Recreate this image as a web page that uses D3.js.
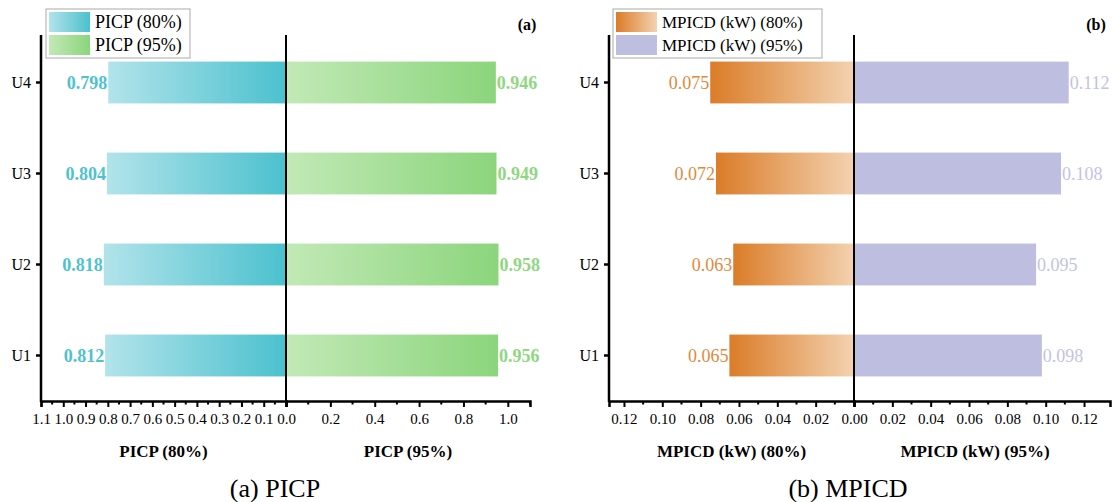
<!DOCTYPE html>
<html>
<head>
<meta charset="utf-8">
<script src="https://cdn.jsdelivr.net/npm/d3@7"></script>
<style>
  html, body { margin: 0; padding: 0; background: #fff; }
  svg, svg text { font-family: "Liberation Serif", "Times New Roman", Times, serif; }
  svg { display: block; }
</style>
</head>
<body>
<svg id="chart" width="1113" height="502"></svg>
<script>
// Units and interval metrics
const units = ["U1", "U2", "U3", "U4"];
const picp80 = [0.812, 0.818, 0.804, 0.798];
const picp95 = [0.956, 0.958, 0.949, 0.946];
const mpicd80 = [0.065, 0.063, 0.072, 0.075];
const mpicd95 = [0.098, 0.095, 0.108, 0.112];

const picpLeftTicks = [1.1, 1.0, 0.9, 0.8, 0.7, 0.6, 0.5, 0.4, 0.3, 0.2, 0.1, 0.0];
const picpRightTicks = [0.2, 0.4, 0.6, 0.8, 1.0];
const mpicdTicks = [0.00, 0.02, 0.04, 0.06, 0.08, 0.10, 0.12];

const svg = d3.select("#chart");
const defs = svg.append("defs");

function grad(id, c0, c1) {
  const g = defs.append("linearGradient").attr("id", id)
    .attr("x1", "0%").attr("x2", "100%").attr("y1", "0%").attr("y2", "0%");
  g.append("stop").attr("offset", "0%").attr("stop-color", c0);
  g.append("stop").attr("offset", "100%").attr("stop-color", c1);
}
grad("gCyan", "#b2e3ea", "#4bc1ce");
grad("gGreen", "#c2e9b6", "#8bd57c");
grad("gOrange", "#db7c28", "#f3d2b0");
grad("gLav", "#bebee0", "#bebee0");

const yTop = 35, yBot = 401;
const y = d3.scaleBand().domain(units).range([yBot, 37]).paddingInner(0.54).paddingOuter(0.27);

function panel(cfg) {
  const g = svg.append("g");
  const xl = d3.scaleLinear().domain([0, cfg.leftMax]).range([cfg.x0, cfg.xAxisL]);
  const xr = d3.scaleLinear().domain([0, cfg.rightMax]).range([cfg.x0, cfg.xAxisR]);

  // bars, left side
  g.selectAll(".bl").data(units).enter().append("rect")
    .attr("x", (d, i) => xl(cfg.left[i]))
    .attr("width", (d, i) => cfg.x0 - xl(cfg.left[i]))
    .attr("y", d => y(d)).attr("height", y.bandwidth())
    .attr("fill", `url(#${cfg.leftFill})`);
  // bars, right side
  g.selectAll(".br").data(units).enter().append("rect")
    .attr("x", cfg.x0)
    .attr("width", (d, i) => xr(cfg.right[i]) - cfg.x0)
    .attr("y", d => y(d)).attr("height", y.bandwidth())
    .attr("fill", `url(#${cfg.rightFill})`);

  // value labels
  g.selectAll(".tl").data(units).enter().append("text")
    .attr("x", (d, i) => xl(cfg.left[i]) - 1)
    .attr("y", d => y(d) + y.bandwidth() / 2 + 6)
    .attr("text-anchor", "end")
    .attr("font-size", 18).attr("font-weight", cfg.labelWeight)
    .attr("fill", cfg.leftColor)
    .text((d, i) => cfg.fmt(cfg.left[i]));
  g.selectAll(".tr").data(units).enter().append("text")
    .attr("x", (d, i) => xr(cfg.right[i]) + 1)
    .attr("y", d => y(d) + y.bandwidth() / 2 + 6)
    .attr("text-anchor", "start")
    .attr("font-size", 18).attr("font-weight", cfg.labelWeight)
    .attr("fill", cfg.rightColor)
    .text((d, i) => cfg.fmt(cfg.right[i]));

  // y axis
  const yAx = g.append("g").attr("transform", `translate(${cfg.xAxisL},0)`)
    .call(d3.axisLeft(y).tickSize(5).tickPadding(5));
  yAx.attr("font-family", null);
  yAx.select(".domain").remove();
  yAx.selectAll(".tick line").attr("stroke", "#000").attr("stroke-width", 2.5);
  yAx.selectAll(".tick text").attr("font-size", 16).attr("fill", "#000");
  g.append("line").attr("x1", cfg.xAxisL).attr("x2", cfg.xAxisL)
    .attr("y1", yTop).attr("y2", yBot + 1).attr("stroke", "#000").attr("stroke-width", 2.5);

  // center line
  g.append("line").attr("x1", cfg.x0).attr("x2", cfg.x0)
    .attr("y1", yTop).attr("y2", yBot).attr("stroke", "#000").attr("stroke-width", 2);

  // x axes
  const axL = g.append("g").attr("transform", `translate(0,${yBot})`)
    .call(d3.axisBottom(xl).tickValues(cfg.leftTicks).tickFormat(cfg.tickFmt).tickSize(6).tickPadding(6));
  const axR = g.append("g").attr("transform", `translate(0,${yBot})`)
    .call(d3.axisBottom(xr).tickValues(cfg.rightTicks).tickFormat(cfg.tickFmt).tickSize(6).tickPadding(6));
  [axL, axR].forEach(a => {
    a.attr("font-family", null);
    a.select(".domain").attr("stroke", "#000").attr("stroke-width", 2.5);
    a.selectAll(".tick line").attr("stroke", "#000").attr("stroke-width", 2);
    a.selectAll(".tick text").attr("font-size", 15).attr("fill", "#000");
  });
  // minor ticks
  g.selectAll(".mnl").data(cfg.leftMinor).enter().append("line")
    .attr("x1", d => xl(d)).attr("x2", d => xl(d))
    .attr("y1", yBot).attr("y2", yBot + 3.5).attr("stroke", "#000").attr("stroke-width", 2);
  g.selectAll(".mnr").data(cfg.rightMinor).enter().append("line")
    .attr("x1", d => xr(d)).attr("x2", d => xr(d))
    .attr("y1", yBot).attr("y2", yBot + 3.5).attr("stroke", "#000").attr("stroke-width", 2);

  // axis titles
  g.append("text").attr("x", (cfg.xAxisL + cfg.x0) / 2).attr("y", 457)
    .attr("text-anchor", "middle").attr("font-size", 17).attr("font-weight", "bold")
    .text(cfg.titleL);
  g.append("text").attr("x", (cfg.x0 + cfg.xAxisR) / 2 - cfg.titleShift).attr("y", 457)
    .attr("text-anchor", "middle").attr("font-size", 17).attr("font-weight", "bold")
    .text(cfg.titleR);

  // caption
  g.append("text").attr("x", cfg.captionX).attr("y", 497)
    .attr("text-anchor", "middle").attr("font-size", 26).text(cfg.caption);

  // panel tag
  g.append("text").attr("x", cfg.tagX).attr("y", 30)
    .attr("text-anchor", "middle").attr("font-size", 16).attr("font-weight", "bold").text(cfg.tag);

  // legend
  const lg = g.append("g").attr("transform", `translate(${cfg.legX},9)`);
  lg.append("rect").attr("x", 0).attr("y", 0).attr("width", cfg.legW).attr("height", 49)
    .attr("fill", "#fff").attr("stroke", "#aaa").attr("stroke-width", 1);
  cfg.legend.forEach((it, i) => {
    lg.append("rect").attr("x", 3).attr("y", 3 + i * 23).attr("width", 41).attr("height", 20)
      .attr("fill", `url(#${it.fill})`);
    lg.append("text").attr("x", 49).attr("y", 19 + i * 23).attr("font-size", cfg.legFont).text(it.text);
  });
}

const f3 = d3.format(".3f");

panel({
  x0: 286, xAxisL: 41, xAxisR: 530, leftMax: 1.1, rightMax: 1.1,
  left: picp80, right: picp95, leftFill: "gCyan", rightFill: "gGreen",
  leftColor: "#4ec3cf", rightColor: "#8fd781", labelWeight: "bold", fmt: f3,
  leftTicks: picpLeftTicks, rightTicks: picpRightTicks, tickFmt: d3.format(".1f"),
  leftMinor: d3.range(0.05, 1.1, 0.1), rightMinor: d3.range(0.1, 1.15, 0.2),
  titleL: "PICP (80%)", titleR: "PICP (95%)", titleShift: 0,
  caption: "(a) PICP", captionX: 275, tag: "(a)", tagX: 527,
  legX: 46, legW: 144, legFont: 18,
  legend: [{ fill: "gCyan", text: "PICP (80%)" }, { fill: "gGreen", text: "PICP (95%)" }]
});

panel({
  x0: 854, xAxisL: 609, xAxisR: 1110, leftMax: 245 / 1917, rightMax: 256 / 1917,
  left: mpicd80, right: mpicd95, leftFill: "gOrange", rightFill: "gLav",
  leftColor: "#e08a3c", rightColor: "#c3c3e3", labelWeight: "normal", fmt: f3,
  leftTicks: mpicdTicks, rightTicks: mpicdTicks.slice(1), tickFmt: d3.format(".2f"),
  leftMinor: d3.range(0.01, 0.125, 0.02), rightMinor: d3.range(0.01, 0.13, 0.02),
  titleL: "MPICD (kW) (80%)", titleR: "MPICD (kW) (95%)", titleShift: 7,
  caption: "(b) MPICD", captionX: 848, tag: "(b)", tagX: 1096,
  legX: 613, legW: 209, legFont: 17,
  legend: [{ fill: "gOrange", text: "MPICD (kW) (80%)" }, { fill: "gLav", text: "MPICD (kW) (95%)" }]
});
</script>
</body>
</html>
